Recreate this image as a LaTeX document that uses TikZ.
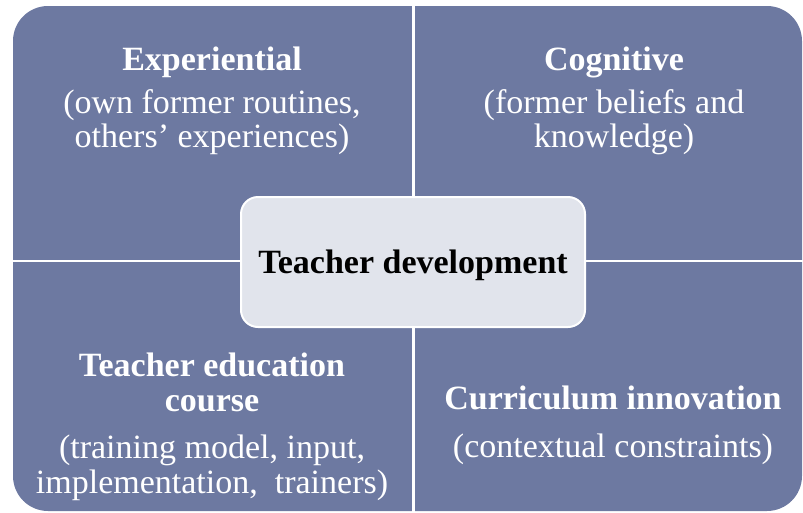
\documentclass[tikz,border=0pt]{standalone}
\usepackage{fontspec}
\setmainfont{Liberation Serif}
\definecolor{quadfill}{RGB}{109,121,161}
\definecolor{centerfill}{RGB}{225,228,236}
\tikzset{
  quadtext/.style={text=white, align=center, inner sep=0pt, font=\fontsize{34}{34}\selectfont},
  quadtextb/.style={quadtext, font=\fontsize{34}{35}\selectfont},
  centerbox/.style={draw=white, line width=2pt, fill=centerfill, rounded corners=17pt,
    minimum width=344pt, minimum height=130pt, inner sep=0pt, text depth=0pt,
    font=\fontsize{34}{35}\selectfont\bfseries, text=black},
  sepline/.style={draw=white, line width=2.5pt}
}
\begin{document}
\begin{tikzpicture}[x=1pt, y=-1pt]
\useasboundingbox (0,0) rectangle (803,512);
\fill[quadfill, rounded corners=35pt] (13,6) rectangle (802,511);
\draw[sepline] (413.5,0) -- (413.5,512);
\draw[sepline] (0,261) -- (803,261);
\node[quadtext] (tl) at (212,101) {\textbf{Experiential}\\[9pt](own former routines,\\others’ experiences)};
\node[quadtext] (tr) at (614,101) {\textbf{Cognitive}\\[9pt](former beliefs and\\knowledge)};
\node[quadtextb] (bl) at (212,427) {\textbf{Teacher education}\\\textbf{course}\\[12pt](training model, input,\\implementation,\ \ trainers)};
\node[quadtextb] (br) at (613,425.5) {\textbf{Curriculum innovation}\\[13pt](contextual constraints)};
\node[centerbox] (center) at (413,262) {Teacher development};
\end{tikzpicture}
\end{document}
